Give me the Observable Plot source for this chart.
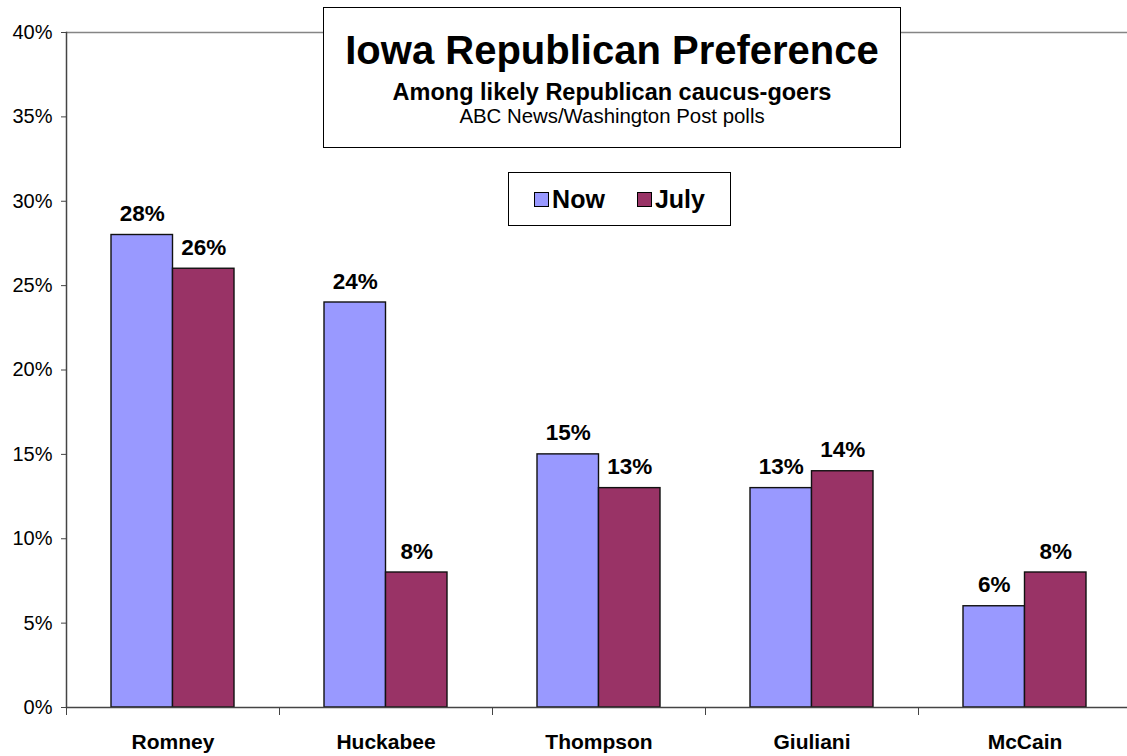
<!DOCTYPE html>
<html>
<head>
<meta charset="utf-8">
<script src="https://cdn.jsdelivr.net/npm/d3@7"></script>
<script src="https://cdn.jsdelivr.net/npm/@observablehq/plot@0.6"></script>
<style>
  html, body { margin: 0; padding: 0; background: #fff; }
  #wrap { position: relative; width: 1127px; height: 756px; overflow: hidden; font-family: "Liberation Sans", Arial, sans-serif; }
  #titlebox { position: absolute; left: 323px; top: 7px; width: 576px; height: 139px; border: 1px solid #000; background: #fff; text-align: center; box-sizing: content-box; }
  #titlebox .t { font-size: 40px; font-weight: bold; line-height: 40px; margin-top: 22px; }
  #titlebox .s { font-size: 23.5px; font-weight: bold; line-height: 24px; margin-top: 10px; }
  #titlebox .c { font-size: 20.4px; line-height: 21px; margin-top: 2px; }
  #legend { position: absolute; left: 508px; top: 172px; width: 221px; height: 52px; border: 1px solid #000; background: #fff; display: flex; align-items: center; justify-content: center; gap: 32px; }
  #legend .item { display: flex; align-items: center; font-size: 25px; font-weight: bold; }
  #legend .sw { width: 15px; height: 15px; border: 1.5px solid #000; margin-right: 3px; box-sizing: border-box; }
</style>
</head>
<body>
<div id="wrap">
  <div id="chart"></div>
  <div id="titlebox">
    <div class="t" id="t1"></div>
    <div class="s" id="t2"></div>
    <div class="c" id="t3"></div>
  </div>
  <div id="legend"></div>
</div>
<script>
// ---- data ----
const candidates = ["Romney", "Huckabee", "Thompson", "Giuliani", "McCain"];
const nowValues = [28, 24, 15, 13, 6];
const julyValues = [26, 8, 13, 14, 8];
const seriesNames = ["Now", "July"];
const seriesColors = ["#9999FF", "#993366"];
const yTicks = [0, 5, 10, 15, 20, 25, 30, 35, 40];
const titleText = "Iowa Republican Preference";
const subtitleText = "Among likely Republican caucus-goers";
const sourceText = "ABC News/Washington Post polls";

// ---- table ----
const nowRows = candidates.map((c, i) => ({candidate: c, series: seriesNames[0], value: nowValues[i]}));
const julyRows = candidates.map((c, i) => ({candidate: c, series: seriesNames[1], value: julyValues[i]}));

// ---- layout ----
const W = 1127, H = 756;
const mL = 66, mR = -4, mT = 32, mB = 49;
const step = (W - mL - mR) / candidates.length;
const groupFrac = 123 / 213;
const bw = step * groupFrac;      // width of both bars together
const half = bw / 2;              // width of one bar
const padInner = 1 - groupFrac;

const chart = Plot.plot({
  width: W,
  height: H,
  marginLeft: mL,
  marginRight: mR,
  marginTop: mT,
  marginBottom: mB,
  style: {fontFamily: "'Liberation Sans', Arial, sans-serif", background: "white", color: "#000", overflow: "visible"},
  x: {type: "band", domain: candidates, paddingInner: padInner, paddingOuter: padInner / 2, label: null},
  y: {domain: [0, 40], label: null},
  marks: [
    Plot.ruleY([40], {stroke: "#858585", strokeWidth: 1.5}),
    Plot.frame({anchor: "left", stroke: "#444", strokeWidth: 1.5}),
    Plot.barY(nowRows, {x: "candidate", y: "value", fill: seriesColors[0], stroke: "#111", strokeWidth: 1.4, insetRight: half}),
    Plot.barY(julyRows, {x: "candidate", y: "value", fill: seriesColors[1], stroke: "#111", strokeWidth: 1.4, insetLeft: half}),
    Plot.ruleY([0], {stroke: "#444", strokeWidth: 1.5}),
    Plot.text(nowRows, {x: "candidate", y: "value", text: d => d.value + "%", dx: -half / 2, dy: -14, lineAnchor: "bottom", fontSize: 22.5, fontWeight: "bold", fill: "#000"}),
    Plot.text(julyRows, {x: "candidate", y: "value", text: d => d.value + "%", dx: half / 2, dy: -14, lineAnchor: "bottom", fontSize: 22.5, fontWeight: "bold", fill: "#000"}),
    Plot.axisY({ticks: yTicks, tickFormat: d => d + "%", tickSize: 5, tickPadding: 9, fontSize: 20, stroke: "#444", fill: "#000", label: null}),
    Plot.axisX({tickSize: 8, text: null, dx: -step / 2, stroke: "#444", label: null}),
    Plot.axisX({tickSize: 0, tickPadding: 27, fontSize: 21, fontWeight: "bold", fill: "#000", label: null})
  ]
});
document.getElementById("chart").appendChild(chart);

document.getElementById("t1").textContent = titleText;
document.getElementById("t2").textContent = subtitleText;
document.getElementById("t3").textContent = sourceText;

const legend = document.getElementById("legend");
seriesNames.forEach((name, i) => {
  const item = document.createElement("div");
  item.className = "item";
  const sw = document.createElement("div");
  sw.className = "sw";
  sw.style.background = seriesColors[i];
  const label = document.createElement("span");
  label.textContent = name;
  item.appendChild(sw);
  item.appendChild(label);
  legend.appendChild(item);
});
</script>
</body>
</html>
